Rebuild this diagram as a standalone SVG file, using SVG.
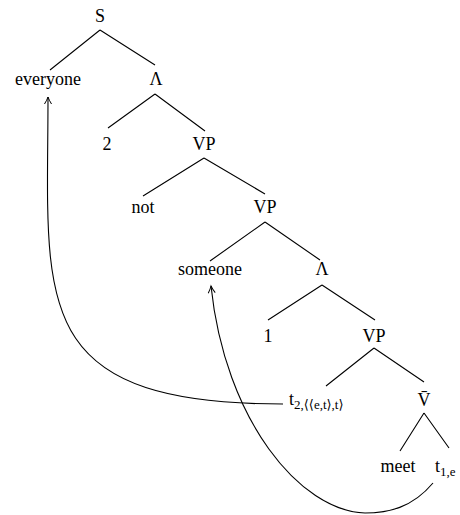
<svg xmlns="http://www.w3.org/2000/svg" width="460" height="515" viewBox="0 0 460 515">
<defs>
<style>
text{font-family:"Liberation Serif","DejaVu Serif",serif;font-size:18px;fill:#000;text-anchor:middle}
.sub{font-size:13px;text-anchor:start}
.st{text-anchor:start}
.e{stroke:#000;stroke-width:1.1;fill:none}
</style>
<marker id="ah" markerWidth="10" markerHeight="10" refX="8" refY="5" orient="auto" markerUnits="userSpaceOnUse">
<path d="M1,1.5 Q5,4 8,5 Q5,6 1,8.5" fill="none" stroke="#000" stroke-width="1"/>
</marker>
</defs>
<rect width="460" height="515" fill="#fff"/>
<g id="connectors">
<path class="e" d="M100,30 L50,70 M100,30 L155,65"/>
<path class="e" d="M155,94 L108,128 M155,94 L205,131"/>
<path class="e" d="M204,158 L143,196 M204,158 L265,194"/>
<path class="e" d="M265,222 L210,261 M265,222 L320,260"/>
<path class="e" d="M322,285 L268,320 M322,285 L375,320"/>
<path class="e" d="M374,348 L326,386 M374,348 L424,382"/>
<path class="e" d="M424,413 L400,451 M424,413 L449,448"/>
<path class="e" d="M283,404 C25,404 48,300 48,97" marker-end="url(#ah)"/>
<path class="e" d="M433,483 C412,508 388,513 365,513 C300,511 225,420 211,286" marker-end="url(#ah)"/>
</g>
<g id="n-S"><text x="100" y="22">S</text></g>
<g id="n-everyone"><text x="48" y="85">everyone</text></g>
<g id="n-lambda1"><text x="156" y="85">Λ</text></g>
<g id="n-2"><text x="107" y="150">2</text></g>
<g id="n-VP1"><text x="204" y="150">VP</text></g>
<g id="n-not"><text x="143" y="213">not</text></g>
<g id="n-VP2"><text x="265" y="213">VP</text></g>
<g id="n-someone"><text x="210" y="275">someone</text></g>
<g id="n-lambda2"><text x="322" y="275">Λ</text></g>
<g id="n-1"><text x="268" y="342">1</text></g>
<g id="n-VP3"><text x="374" y="342">VP</text></g>
<g id="n-t2"><text class="st" x="289" y="405">t<tspan class="sub" dy="4">2,⟨⟨e,t⟩,t⟩</tspan></text></g>
<g id="n-Vbar"><text x="424" y="406">V̄</text></g>
<g id="n-meet"><text x="398" y="472">meet</text></g>
<g id="n-t1"><text class="st" x="435" y="472">t<tspan class="sub" dy="4">1,e</tspan></text></g>
</svg>
